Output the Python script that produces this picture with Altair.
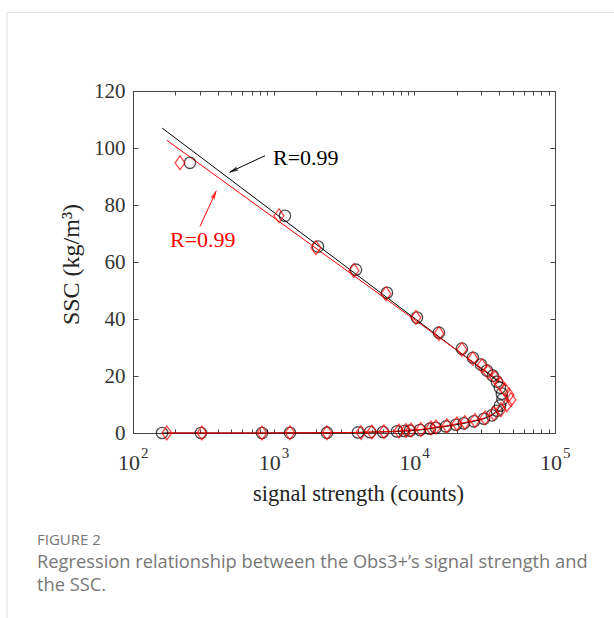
import altair as alt
import pandas as pd

# ---- data ----
# black circles
blk_up_x = [254, 1203, 2065, 3845, 6389, 10435, 14960, 21790, 26090, 29740, 32810, 36190, 38640, 40580, 41900, 42300]
blk_up_y = [94.8, 76.2, 65.4, 57.3, 49.2, 40.5, 35.2, 29.6, 26.4, 24.0, 21.9, 20.1, 18.0, 15.9, 13.8, 11.8]
blk_lo_x = [161, 304, 826, 1306, 2392, 3973, 4835, 5982, 7520, 8436, 9305, 10960, 12910, 14240, 16770, 19760, 22520, 26520, 31240, 35610, 38650, 40580]
blk_lo_y = [0, 0, 0, 0.05, 0.1, 0.2, 0.3, 0.35, 0.55, 0.7, 0.8, 1.05, 1.5, 1.85, 2.3, 2.9, 3.4, 4.1, 5.0, 6.2, 7.8, 9.6]
# red diamonds
red_up_x = [216, 1091, 1998, 3722, 6285, 10265, 14960, 21790, 26090, 30230, 33350, 37400, 40580, 44050, 47030, 48590]
red_up_y = [94.8, 76.2, 65.0, 57.0, 48.9, 40.5, 34.9, 29.3, 26.1, 23.6, 21.5, 19.4, 17.3, 15.2, 13.4, 11.7]
red_lo_x = [174, 309, 826, 1306, 2392, 4174, 4995, 6080, 7772, 8715, 9459, 11140, 13120, 14240, 17050, 20090, 22890, 26960, 31760, 36790, 41260, 45510]
red_lo_y = [0, 0, 0, 0.05, 0.1, 0.2, 0.35, 0.45, 0.7, 0.9, 1.05, 1.25, 1.75, 2.1, 2.55, 3.25, 3.7, 4.4, 5.3, 6.8, 8.2, 9.9]
# regression lines (end points)
blk_fit_x = [161, 40000]
blk_fit_y = [107.0, 17.9]
red_fit_x = [174, 45000]
red_fit_y = [102.7, 16.5]

x_ticks = [100, 200, 300, 400, 500, 600, 700, 800, 900,
           1000, 2000, 3000, 4000, 5000, 6000, 7000, 8000, 9000,
           10000, 20000, 30000, 40000, 50000, 60000, 70000, 80000, 90000, 100000]
x_major = [100, 1000, 10000, 100000]
x_base = ["10", "10", "10", "10"]
x_exp = ["2", "3", "4", "5"]
y_ticks = [0, 20, 40, 60, 80, 100, 120]

r_label = "R=0.99"
x_title = "signal strength (counts)"
y_title = "SSC (kg/m³)"
cap_head = "FIGURE 2"
cap_1 = "Regression relationship between the Obs3+\u2019s signal strength and"
cap_2 = "the SSC."

# ---- tables ----
def pts(xs, ys, s):
    return pd.DataFrame({"x": xs, "y": ys, "s": s, "o": list(range(len(xs)))})

blk_pts = pd.concat([pts(blk_up_x, blk_up_y, "b"), pts(blk_lo_x, blk_lo_y, "b")])
red_pts = pd.concat([pts(red_up_x, red_up_y, "r"), pts(red_lo_x, red_lo_y, "r")])
blk_lo = pts(blk_lo_x, blk_lo_y, "b")
red_lo = pts(red_lo_x, red_lo_y, "r")
blk_fit = pts(blk_fit_x, blk_fit_y, "b")
red_fit = pts(red_fit_x, red_fit_y, "r")
lab_df = pd.DataFrame({"x": x_major, "b": x_base, "e": x_exp})

xs = alt.Scale(type="log", domain=[100, 100000], nice=False)
ys = alt.Scale(domain=[0, 120], nice=False)

SERIF = "Liberation Serif"
AX = dict(domain=False, grid=False, tickColor="#444", tickWidth=1,
          labelFont=SERIF, labelColor="#333", titleFont=SERIF,
          titleColor="#222", titleFontWeight="normal")

ax_bottom = alt.Axis(orient="bottom", values=x_ticks, labels=False,
                     tickSize={"expr": "-4"},
                     title=x_title, titleFontSize=22.5, titleX=225, titleY=67,
                     titleBaseline="alphabetic", **AX)
ax_top = alt.Axis(orient="top", values=x_ticks, labels=False, title=None,
                  tickSize={"expr": "-4"}, **AX)
ax_left = alt.Axis(orient="left", values=y_ticks, tickSize={"expr": "-5"},
                   labelPadding=13, labelFontSize=21, labelFlush=False,
                   title=y_title, titleFontSize=24, titleX=-55, titleY=173,
                   titleBaseline="alphabetic", titleAngle=270, **AX)
ax_right = alt.Axis(orient="right", values=y_ticks, labels=False, title=None,
                    tickSize={"expr": "-5"}, **AX)

def line(df, color):
    return alt.Chart(df).mark_line(color=color, strokeWidth=1).encode(
        x=alt.X("x:Q", scale=xs, axis=None),
        y=alt.Y("y:Q", scale=ys, axis=None),
        order="o:Q")

fit_b = line(blk_fit, "#000000")
fit_r = line(red_fit, "#ff0000")
lo_b = line(blk_lo, "#000000")
lo_r = line(red_lo, "#ff0000")

circ = alt.Chart(blk_pts).mark_point(shape="circle", filled=False, size=130,
                                      color="#000000", strokeWidth=1.3).encode(
    x=alt.X("x:Q", scale=xs, axis=ax_bottom),
    y=alt.Y("y:Q", scale=ys, axis=ax_left))

diamond = "M0,-1L0.72,0L0,1L-0.72,0Z"
diam = alt.Chart(red_pts).mark_point(shape=diamond, filled=False, size=190,
                                      color="#ff0000", strokeWidth=1.3).encode(
    x=alt.X("x:Q", scale=xs, axis=ax_top),
    y=alt.Y("y:Q", scale=ys, axis=ax_right))

# x tick labels as 10 with superscript exponent
lab_base = alt.Chart(lab_df).mark_text(font=SERIF, fontSize=22, color="#333",
                                       align="center", baseline="alphabetic", dx=-4).encode(
    x=alt.X("x:Q", scale=xs, axis=None), y=alt.value(379), text="b:N")
lab_exp = alt.Chart(lab_df).mark_text(font=SERIF, fontSize=15, color="#333",
                                      align="left", baseline="alphabetic", dx=8).encode(
    x=alt.X("x:Q", scale=xs, axis=None), y=alt.value(367), text="e:N")

one = pd.DataFrame({"k": [0]})

def txt(s, x, y, color, font, size, weight="normal"):
    return alt.Chart(one).mark_text(align="left", baseline="alphabetic", font=font,
                                    fontSize=size, color=color, fontWeight=weight).encode(
        x=alt.value(x), y=alt.value(y), text=alt.value(s))

def rule(x, y, x2, y2, color, w=1):
    return alt.Chart(one).mark_rule(color=color, strokeWidth=w).encode(
        x=alt.value(x), y=alt.value(y), x2=alt.value(x2), y2=alt.value(y2))

head = "M0,-1L0.45,1L0,0.7L-0.45,1Z"

def arrowhead(x, y, ang, color):
    return alt.Chart(one).mark_point(shape=head, filled=True, size=110, color=color,
                                     angle=ang, strokeWidth=0).encode(
        x=alt.value(x), y=alt.value(y))

annos = [
    txt(r_label, 140, 74, "#000000", SERIF, 22),
    rule(132, 64.7, 97, 81, "#000000"),
    arrowhead(100.0, 79.7, 244, "#000000"),
    txt(r_label, 37, 155.5, "#ff0000", SERIF, 22),
    rule(67, 135.4, 83, 100.5, "#ff0000"),
    arrowhead(81.6, 103.3, 24.5, "#ff0000"),
    # page frame and caption
    rule(-126, -78.5, 481, -78.5, "#e2e2e2"),
    rule(-126, -78.5, -126, 527, "#e2e2e2"),
    txt(cap_head, -96, 453.5, "#777777", "Open Sans", 15),
    txt(cap_1, -96, 476.5, "#777777", "Open Sans", 18.3),
    txt(cap_2, -96, 499.5, "#777777", "Open Sans", 18.3),
]

chart = alt.layer(fit_b, fit_r, lo_b, lo_r, circ, diam, lab_base, lab_exp, *annos).resolve_axis(
    x="independent", y="independent"
).properties(
    width=422, height=342,
    autosize=alt.AutoSizeParams(type="none"),
    padding={"left": 133, "top": 91, "right": 59, "bottom": 185},
    background="white",
).configure_view(stroke="#444", strokeWidth=1)

chart.save("out.html", embed_options={"renderer": "svg", "actions": False})
